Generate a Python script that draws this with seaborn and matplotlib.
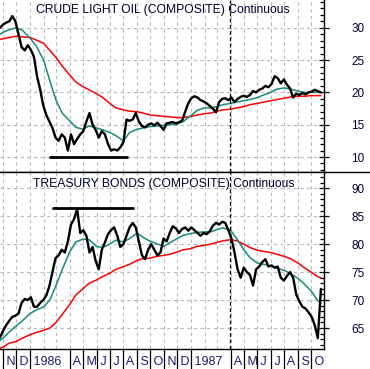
import matplotlib
matplotlib.use('Agg')
import matplotlib.pyplot as plt
from matplotlib.ticker import MultipleLocator
from matplotlib.lines import Line2D
import pandas as pd
import seaborn as sns

sns.set_style('white')
plt.rcParams['font.family'] = ['Liberation Sans', 'DejaVu Sans']

# weekly closes, Oct 25 1985 .. Oct 23 1987
weeks = pd.date_range('1985-10-25', periods=105, freq='7D')
crude = [30.0, 30.5, 30.8, 31.0, 31.8, 31.0, 29.0, 27.0, 26.5, 27.3,
         26.6, 25.5, 22.5, 20.5, 18.0, 16.5, 15.5, 14.5, 13.0, 12.5,
         13.5, 13.0, 11.0, 13.5, 12.0, 12.8, 13.5, 14.0, 15.5, 16.8,
         15.0, 14.2, 13.0, 14.0, 13.5, 12.0, 11.0, 11.2, 11.0, 11.5,
         12.3, 15.8, 15.6, 15.8, 16.8, 15.5, 14.8, 14.6, 15.0, 15.2,
         14.9, 15.3, 14.8, 14.2, 15.2, 15.3, 15.4, 15.2, 15.4, 15.6,
         17.0, 18.3, 19.1, 19.4, 19.2, 18.8, 18.6, 18.3, 17.9, 17.5,
         16.9, 18.5, 19.0, 19.1, 18.8, 19.2, 18.5, 19.0, 19.3, 19.5,
         19.3, 19.6, 20.2, 20.0, 20.4, 20.6, 21.0, 20.8, 21.3, 22.5,
         22.2, 21.4, 22.0, 21.2, 20.6, 19.2, 19.8, 19.6, 19.9, 19.7,
         20.0, 20.1, 20.4, 20.2, 20.0]
bonds = [63.3, 64.5, 65.5, 66.3, 67.0, 67.2, 67.6, 69.5, 70.2, 70.0,
         70.5, 68.8, 68.8, 69.5, 70.0, 70.8, 72.5, 75.0, 77.5, 78.0,
         79.0, 78.5, 80.5, 83.5, 84.5, 86.3, 82.0, 82.5, 81.5, 78.5,
         79.5, 77.0, 75.5, 79.0, 80.3, 81.8, 82.5, 83.0, 81.5, 79.5,
         80.0, 81.5, 83.0, 83.8, 83.0, 80.5, 78.0, 77.3, 79.0, 80.0,
         79.0, 78.0, 78.5, 81.0, 80.5, 82.0, 83.2, 82.8, 82.0, 82.7,
         83.0, 82.4, 83.0, 82.5, 82.0, 81.5, 82.0, 81.8, 82.3, 83.3,
         83.8, 83.5, 84.0, 83.8, 82.5, 81.0, 78.5, 75.5, 74.0, 75.8,
         75.0, 74.5, 72.6, 75.5, 76.0, 76.8, 77.3, 76.0, 76.2, 75.8,
         76.0, 74.0, 73.5, 74.3, 75.0, 74.0, 71.0, 69.8, 68.8, 68.5,
         67.8, 67.0, 65.5, 63.2, 72.0]

# moving averages, read twice a month
ma_dates = ([pd.Timestamp('1985-10-25')]
            + list(pd.date_range('1985-11-01', '1987-10-15', freq='SMS'))
            + [pd.Timestamp('1987-10-23')])
crude_fast = [29.0, 29.3, 29.7, 30.0, 29.6, 28.4, 27.2, 25.0, 21.8, 18.8,
              16.8, 15.6, 14.6, 14.3, 14.8, 14.5, 14.2, 13.8, 13.3, 12.5,
              13.8, 14.3, 14.5, 14.7, 14.8, 14.9, 15.0, 15.1, 15.5, 16.4,
              17.2, 17.6, 17.6, 17.8, 18.1, 18.3, 18.5, 18.7, 18.9, 19.2,
              19.6, 20.0, 20.5, 20.7, 20.5, 20.2, 20.0, 20.0, 20.0, 20.0]
crude_slow = [28.2, 28.3, 28.5, 28.7, 28.6, 28.5, 28.1, 27.6, 26.5, 25.4,
              24.1, 22.7, 21.6, 20.9, 20.4, 19.8, 19.2, 18.3, 17.6, 17.3,
              17.1, 17.0, 16.8, 16.5, 16.4, 16.3, 16.2, 16.1, 16.1, 16.3,
              16.5, 16.7, 16.8, 17.1, 17.3, 17.4, 17.6, 17.8, 18.1, 18.3,
              18.5, 18.7, 18.9, 19.1, 19.3, 19.4, 19.4, 19.5, 19.5, 19.5]
bonds_fast = [62.8, 63.2, 64.3, 65.4, 66.3, 67.6, 68.2, 68.8, 70.0, 72.6,
              75.4, 78.6, 80.4, 80.9, 80.8, 79.6, 79.4, 80.0, 80.7, 80.4,
              81.0, 82.0, 81.2, 80.5, 80.1, 79.6, 80.3, 81.0, 81.6, 81.9,
              82.1, 82.2, 82.2, 82.6, 82.9, 82.5, 81.0, 79.0, 77.6, 76.6,
              76.4, 76.1, 75.7, 75.3, 74.7, 73.9, 72.9, 71.6, 70.0, 69.4]
bonds_slow = [61.4, 61.6, 62.3, 62.6, 63.2, 63.8, 64.2, 64.6, 65.0, 66.0,
              67.4, 69.2, 70.9, 72.0, 73.0, 73.6, 74.2, 74.8, 75.5, 76.0,
              76.4, 77.1, 77.4, 77.5, 77.8, 78.0, 78.2, 78.6, 79.0, 79.2,
              79.6, 79.8, 80.0, 80.3, 80.6, 80.8, 80.6, 80.0, 79.4, 78.9,
              78.7, 78.5, 78.2, 77.8, 77.4, 76.6, 75.8, 75.0, 74.2, 74.0]

# drawn support / resistance lines
crude_support = (['1986-02-15', '1986-08-09'], [10.0, 10.0])
bonds_top = (['1986-02-22', '1986-08-23'], [86.4, 86.4])
marker_date = '1987-03-30'

month_dates = ['1985-11-01', '1985-12-01', '1986-01-01', '1986-04-01', '1986-05-01',
               '1986-06-01', '1986-07-01', '1986-08-01', '1986-09-01', '1986-10-01',
               '1986-11-01', '1986-12-01', '1987-01-01', '1987-04-01', '1987-05-01',
               '1987-06-01', '1987-07-01', '1987-08-01', '1987-09-01', '1987-10-01']
month_labels = ['N', 'D', '1986', 'A', 'M', 'J', 'J', 'A', 'S', 'O',
                'N', 'D', '1987', 'A', 'M', 'J', 'J', 'A', 'S', 'O']

TEAL = '#168a7c'
RED = '#ff0000'
TXT = '#000033'

fig = plt.figure(figsize=(3.70, 3.69), dpi=100)
ax1 = fig.add_axes([0, 1 - 172 / 369, 324 / 370, 172 / 369])
ax2 = fig.add_axes([0, 1 - 349 / 369, 324 / 370, 177 / 369], sharex=ax1)

panels = [
    (ax1, crude, crude_fast, crude_slow, crude_support, (7.68, 34.3),
     'CRUDE LIGHT OIL (COMPOSITE) Continuous', 36, 0.977),
    (ax2, bonds, bonds_fast, bonds_slow, bonds_top, (61.25, 92.9),
     'TREASURY BONDS (COMPOSITE) Continuous', 33, 0.966),
]
for ax, price, fast, slow, hline, ylim, title, tx, ty in panels:
    sns.lineplot(x=ma_dates, y=slow, ax=ax, color=RED, linewidth=1.1)
    sns.lineplot(x=ma_dates, y=fast, ax=ax, color=TEAL, linewidth=1.1)
    sns.lineplot(x=weeks, y=price, ax=ax, color='black', linewidth=1.7)
    ax.plot(pd.to_datetime(hline[0]), hline[1], color='black', linewidth=2)
    ax.axvline(pd.Timestamp(marker_date), color='black', linestyle=(0, (3, 2)),
               linewidth=0.9)
    ax.set_ylim(*ylim)
    ax.set_xlabel('')
    ax.set_ylabel('')
    ax.yaxis.tick_right()
    ax.yaxis.set_major_locator(MultipleLocator(5))
    ax.yaxis.set_minor_locator(MultipleLocator(1))
    ax.tick_params(axis='y', which='major', direction='inout', length=7,
                   width=0.9, color='black', pad=16, labelsize=8.5,
                   labelcolor=TXT, right=True)
    ax.tick_params(axis='y', which='minor', direction='in', length=3,
                   width=0.9, color='black', right=True)
    ax.xaxis.set_minor_locator(matplotlib.dates.MonthLocator())
    ax.grid(True, axis='y', which='major', color='#b8b8b8',
            linestyle=(0, (3, 3)), linewidth=0.8)
    ax.grid(True, axis='x', which='both', color='#b8b8b8',
            linestyle=(0, (3, 3)), linewidth=0.8)
    for side in ['left', 'top']:
        ax.spines[side].set_visible(False)
    for side in ['right', 'bottom']:
        ax.spines[side].set_color('black')
        ax.spines[side].set_linewidth(1.0)
    ax.text(tx / 324, ty, title, transform=ax.transAxes, ha='left', va='top',
            fontsize=8.7, color=TXT)

ax1.set_xlim(pd.Timestamp('1985-10-25'), pd.Timestamp('1987-10-30'))
ax2.set_xticks(pd.to_datetime(month_dates))
ax2.set_xticklabels([' ' + m for m in month_labels])
plt.setp(ax2.get_xticklabels(), ha='left')
ax1.tick_params(axis='x', which='both', length=0, labelbottom=False)
ax2.tick_params(axis='x', which='major', direction='out', length=15, width=0.9,
                color='black', pad=-10, labelsize=9, labelcolor='#1a1a6e',
                bottom=True)
ax2.tick_params(axis='x', which='minor', length=0)

# separator running across the whole figure
fig.add_artist(Line2D([0, 1], [1 - 172 / 369, 1 - 172 / 369], color='black',
                      linewidth=1.0, transform=fig.transFigure))

fig.savefig('out.png', dpi=100)
